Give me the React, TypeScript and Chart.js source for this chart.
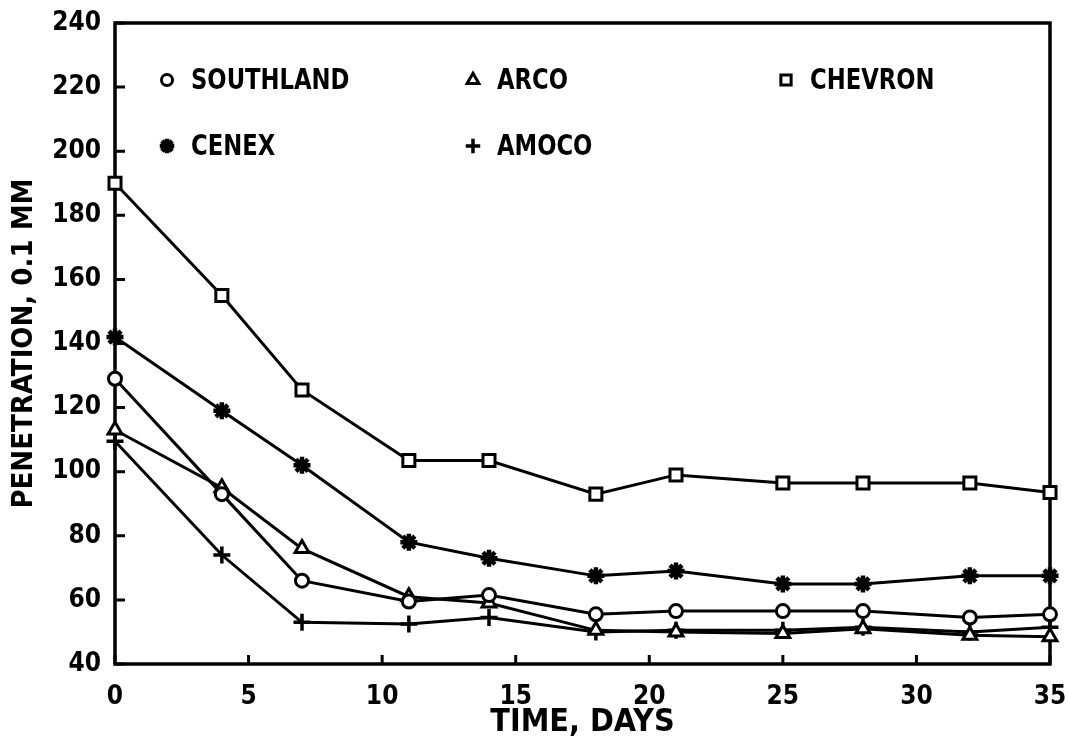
import React, { useEffect, useRef } from 'react';
import { Chart, registerables } from 'chart.js';
import { drawPoint } from 'chart.js/helpers';

Chart.register(...registerables);

// ---- data ----
const days = [0, 4, 7, 11, 14, 18, 21, 25, 28, 32, 35];
const southland = [129, 93, 66, 59.5, 61.5, 55.5, 56.5, 56.5, 56.5, 54.5, 55.5];
const arco = [113, 95, 76, 61, 59, 50.5, 50, 49.5, 51, 49, 48.5];
const chevron = [190, 155, 125.5, 103.5, 103.5, 93, 99, 96.5, 96.5, 96.5, 93.5];
const cenex = [142, 119, 102, 78, 73, 67.5, 69, 65, 65, 67.5, 67.5];
const amoco = [109.5, 74, 53, 52.5, 54.5, 50, 50.5, 50.5, 51.5, 50, 51.5];

const seriesNames = ['SOUTHLAND', 'ARCO', 'CHEVRON', 'CENEX', 'AMOCO'];
const xTitle = 'TIME, DAYS';
const yTitle = 'PENETRATION, 0.1 MM';
const xMin = 0, xMax = 35, xStep = 5;
const yMin = 40, yMax = 240, yStep = 20;

const FONT = '"DejaVu Sans Condensed", "DejaVu Sans", sans-serif';

const markerStyles = [
  { pointStyle: 'circle', radius: 6.5, borderWidth: 3 },
  { pointStyle: 'triangle', radius: 8, borderWidth: 3 },
  { pointStyle: 'rect', radius: 8.5, borderWidth: 3 },
  { pointStyle: 'star', radius: 8.5, borderWidth: 4.5 },
  { pointStyle: 'cross', radius: 8.5, borderWidth: 3.5 },
];

// legend layout (canvas px): [x of marker, y of row]
const legendSlots = [
  [167, 80],
  [473, 80],
  [786, 80],
  [167, 146],
  [473, 146],
];

const framePlugin = {
  id: 'frame',
  beforeDatasetsDraw(chart: any) {
    const { ctx, chartArea, scales } = chart;
    const { left, right, top, bottom } = chartArea;
    ctx.save();
    ctx.strokeStyle = '#000';
    ctx.lineWidth = 3.5;
    ctx.lineCap = 'square';
    ctx.strokeRect(left, top, right - left, bottom - top);
    ctx.lineWidth = 3;
    ctx.lineCap = 'butt';
    ctx.beginPath();
    scales.x.ticks.forEach((t: any) => {
      const px = scales.x.getPixelForValue(t.value);
      ctx.moveTo(px, bottom);
      ctx.lineTo(px, bottom - 9);
    });
    scales.y.ticks.forEach((t: any) => {
      const py = scales.y.getPixelForValue(t.value);
      ctx.moveTo(left, py);
      ctx.lineTo(left + 10, py);
    });
    ctx.stroke();
    ctx.restore();
  },
};

const legendPlugin = {
  id: 'gridLegend',
  afterDraw(chart: any) {
    const { ctx } = chart;
    chart.data.datasets.forEach((ds: any, i: number) => {
      const [x, y] = legendSlots[i];
      const m = markerStyles[i];
      ctx.save();
      ctx.fillStyle = '#fff';
      ctx.strokeStyle = '#000';
      ctx.lineWidth = m.borderWidth;
      drawPoint(ctx, { pointStyle: m.pointStyle, radius: m.radius * 0.85, borderWidth: m.borderWidth, rotation: 0 } as any, x, y);
      ctx.fillStyle = '#000';
      ctx.font = `bold 29px ${FONT}`;
      ctx.textBaseline = 'middle';
      ctx.textAlign = 'left';
      ctx.translate(x + 24, y + 1);
      ctx.scale(0.87, 1);
      ctx.fillText(ds.label, 0, 0);
      ctx.restore();
    });
  },
};

export default function App() {
  const ref = useRef<HTMLCanvasElement | null>(null);

  useEffect(() => {
    if (!ref.current) return;
    const values = [southland, arco, chevron, cenex, amoco];
    const datasets = values.map((vals, i) => ({
      label: seriesNames[i],
      data: days.map((d, j) => ({ x: d, y: vals[j] })),
      borderColor: '#000',
      borderWidth: 3,
      tension: 0,
      fill: false,
      clip: false as any,
      pointStyle: markerStyles[i].pointStyle as any,
      pointRadius: markerStyles[i].radius,
      pointBorderWidth: markerStyles[i].borderWidth,
      pointBackgroundColor: '#fff',
      pointBorderColor: '#000',
    }));
    const tickFont = { family: FONT, size: 26, weight: 'bold' as const };
    const chart = new Chart(ref.current, {
      type: 'line',
      data: { datasets },
      options: {
        animation: false,
        responsive: false,
        devicePixelRatio: 1,
        layout: { padding: { top: 23, right: 18, bottom: 1, left: 0 } },
        plugins: { legend: { display: false }, tooltip: { enabled: false } },
        scales: {
          x: {
            type: 'linear',
            min: xMin,
            max: xMax,
            ticks: { stepSize: xStep, padding: 10, color: '#000', font: tickFont },
            grid: { display: false },
            border: { display: false },
            title: { display: true, text: xTitle, color: '#000', font: { family: FONT, size: 32, weight: 'bold' }, padding: { top: 0, bottom: 2 } },
            afterFit: (s: any) => { s.height = 80; s.paddingLeft = 0; s.paddingRight = 0; },
          },
          y: {
            type: 'linear',
            min: yMin,
            max: yMax,
            ticks: { stepSize: yStep, padding: 6, color: '#000', font: tickFont },
            grid: { display: false },
            border: { display: false },
            title: { display: true, text: yTitle, color: '#000', font: { family: FONT, size: 29, weight: 'bold' }, padding: { top: 7, bottom: 0 } },
            afterFit: (s: any) => { s.width = 115; s.paddingTop = 0; s.paddingBottom = 0; },
          },
        },
      },
      plugins: [framePlugin, legendPlugin],
    });
    return () => chart.destroy();
  }, []);

  return (
    <div style={{ position: 'absolute', left: 0, top: 0, width: 1068, height: 745, background: '#fff' }}>
      <canvas ref={ref} width={1068} height={745} style={{ display: 'block' }} />
    </div>
  );
}
